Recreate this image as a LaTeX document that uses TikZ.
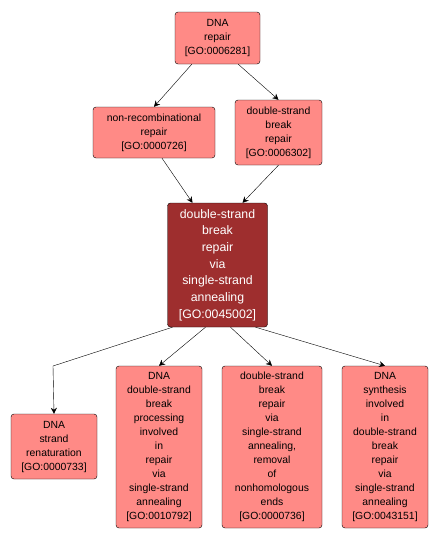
\documentclass[tikz,border=0pt]{standalone}
\usepackage{fontspec}
\setmainfont{Liberation Sans}
\usepackage{tikz}
\usetikzlibrary{arrows.meta,positioning}
\definecolor{Salmon}{HTML}{FF8A86}
\definecolor{Brick}{HTML}{9E2E2E}

\begin{document}
\begin{tikzpicture}[x=1pt,y=-1pt,>={Stealth[length=6pt,width=6pt,inset=2pt]},
    term/.style={draw=black,fill=Salmon,rounded corners=3pt,align=center,inner sep=1pt,
      font=\fontsize{10.4}{14}\selectfont},
    focus/.style={term,fill=Brick,text=white,font=\fontsize{12.3}{16.7}\selectfont}]
    \useasboundingbox (0,0) rectangle (438,541);
    \node[term,minimum width=85,minimum height=52] (repair) at (217.5,38) {DNA\\repair\\{}[GO:0006281]};
    \node[term,minimum width=122,minimum height=51] (nonrec) at (154,132.5) {non-recombinational\\repair\\{}[GO:0000726]};
    \node[term,minimum width=87,minimum height=65] (dsb) at (278.5,132.5) {double-strand\\break\\repair\\{}[GO:0006302]};
    \node[focus,minimum width=100,minimum height=124] (ssa) at (217.5,265) {double-strand\\break\\repair\\via\\single-strand\\annealing\\{}[GO:0045002]};
    \node[term,minimum width=86,minimum height=65] (renat) at (54,446.5) {DNA\\strand\\renaturation\\{}[GO:0000733]};
    \node[term,minimum width=86,minimum height=162] (proc) at (159,447) {DNA\\double-strand\\break\\processing\\involved\\in\\repair\\via\\single-strand\\annealing\\{}[GO:0010792]};
    \node[term,minimum width=100,minimum height=162] (nonhom) at (272,447) {double-strand\\break\\repair\\via\\single-strand\\annealing,\\removal\\of\\nonhomologous\\ends\\{}[GO:0000736]};
    \node[term,minimum width=86,minimum height=162] (synth) at (385,447) {DNA\\synthesis\\involved\\in\\double-strand\\break\\repair\\via\\single-strand\\annealing\\{}[GO:0043151]};
    \coordinate (bend) at (53,366);
    \draw[->] (repair.south west) ++(17,0) -- (nonrec.north);
    \draw[->] (repair.south east) ++(-22,0) -- (dsb.north);
    \draw[->] (nonrec.south) ++(8,0) -- ([xshift=-25]ssa.north);
    \draw[->] (dsb.south) -- ([xshift=25]ssa.north);
    \draw[->] ([xshift=-45]ssa.south) -- (bend) -- (renat.north);
    \draw[->] ([xshift=-12]ssa.south) -- (proc.north);
    \draw[->] ([xshift=13]ssa.south) -- (nonhom.north);
    \draw[->] ([xshift=38]ssa.south) -- (synth.north);
  \end{tikzpicture}
\end{document}
